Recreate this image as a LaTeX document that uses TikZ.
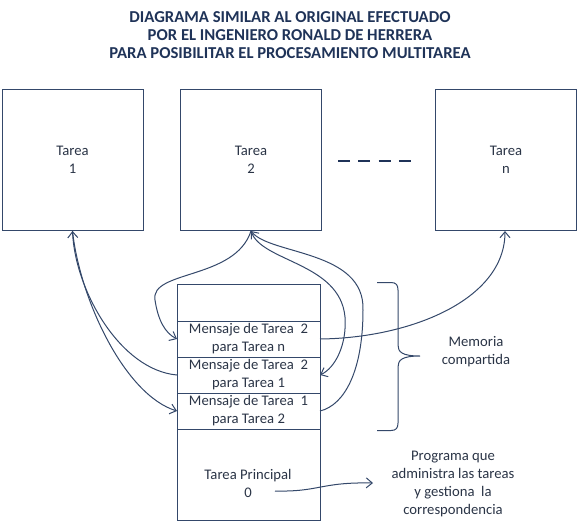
\documentclass[tikz,border=0pt]{standalone}
\usepackage{fontspec}
\setmainfont{Carlito}
\usetikzlibrary{arrows.meta}
\definecolor{linec}{HTML}{34486A}
\definecolor{textc}{HTML}{2A3446}
\definecolor{titlec}{HTML}{1F3358}
\begin{document}
\begin{tikzpicture}[x=0.75pt,y=-0.75pt,
  every node/.style={font=\fontsize{11pt}{13.5pt}\selectfont, text=textc},
  taskbox/.style={draw=linec, line width=0.75pt, minimum width=105.75pt, minimum height=105.75pt, align=center, inner sep=0pt, outer sep=0pt},
  cell/.style={draw=linec, line width=0.75pt, minimum width=107.25pt, align=center, inner sep=0pt, outer sep=0pt},
  lbl/.style={align=center, inner sep=0pt},
  conn/.style={draw=linec, line width=0.75pt},
  tip/.style={-{Straight Barb[length=4.5pt,width=7.5pt,line width=0.75pt]}}
]
\useasboundingbox (0,0) rectangle (579,522);

% title
\node[lbl, font=\fontsize{12.5pt}{13.5pt}\selectfont\bfseries, text=titlec] (title) at (290,35)
  {DIAGRAMA SIMILAR AL ORIGINAL EFECTUADO\\POR EL INGENIERO RONALD DE HERRERA\\PARA POSIBILITAR EL PROCESAMIENTO MULTITAREA};

% task boxes
\node[taskbox] (t1) at (72.5,159.5) {Tarea\\1};
\node[taskbox] (t2) at (251,159.5) {Tarea\\2};
\node[taskbox] (tn) at (506,159.5) {Tarea\\n};

% dashes
\coordinate (d1) at (338,161);
\coordinate (d2) at (414,161);
\draw[titlec, line width=2.2pt, dash pattern=on 9pt off 6.2pt] (d1) -- (d2);

% memory stack
\node[cell, minimum height=27.75pt] (m0) at (248.5,302.5) {};
\node[cell, minimum height=27pt, anchor=north] (m1) at (m0.south) {Mensaje de Tarea~ 2\\para Tarea n};
\node[cell, minimum height=27pt, anchor=north] (m2) at (m1.south) {Mensaje de Tarea~ 2\\para Tarea 1};
\node[cell, minimum height=27pt, anchor=north] (m3) at (m2.south) {Mensaje de Tarea~ 1\\para Tarea 2};
\node[cell, minimum height=68.25pt, anchor=north] (m4) at (m3.south) {};
\node[lbl] (tp) at (248,483) {Tarea Principal\\0};

% brace
\coordinate (b1) at (377,282.5);
\coordinate (bt) at (420,356);
\coordinate (b2) at (377,430.5);
\draw[linec, line width=0.75pt] (b1) -- (391,282.5)
  .. controls (396,282.5) and (398,285) .. (398,290) -- (398,345)
  .. controls (398,352) and (402,356) .. (bt)
  .. controls (402,356) and (398,360) .. (398,367) -- (398,423)
  .. controls (398,428) and (396,430.5) .. (391,430.5) -- (b2);
\node[lbl] (mem) at (476,352) {Memoria\\compartida};

% program text
\node[lbl] (prog) at (453,484) {Programa que\\administra las tareas\\y gestiona~ la\\correspondencia};

% connectors
\coordinate (t1b) at (72.5,231);
\coordinate (t2b) at (251,231);
\coordinate (tnb) at (505,231);

% Tarea 1
\draw[conn, tip] (m2.west) .. controls (120,370) and (75,290) .. (t1b);
\draw[conn, tip] (t1b) .. controls (80,300) and (125,395) .. (m3.west);

% Tarea 2
\draw[conn, tip] (t2b) .. controls (235,280) and (150,270) .. (155,300)
   .. controls (158,320) and (165,333) .. (m1.west);
\draw[conn, tip] (t2b) .. controls (260,262) and (340,262) .. (345,317)
   .. controls (347,345) and (335,368) .. (m2.east);
\draw[conn, tip] (m3.east) .. controls (345,405) and (363,370) .. (363,310)
   .. controls (365,250) and (270,255) .. (t2b);

% Tarea n
\draw[conn, tip] (m1.east) .. controls (410,338) and (505,300) .. (tnb);

% principal
\coordinate (p0) at (275,491);
\coordinate (p1) at (373,483);
\draw[conn, tip] (p0) .. controls (320,492) and (320,482) .. (p1);
\end{tikzpicture}
\end{document}
